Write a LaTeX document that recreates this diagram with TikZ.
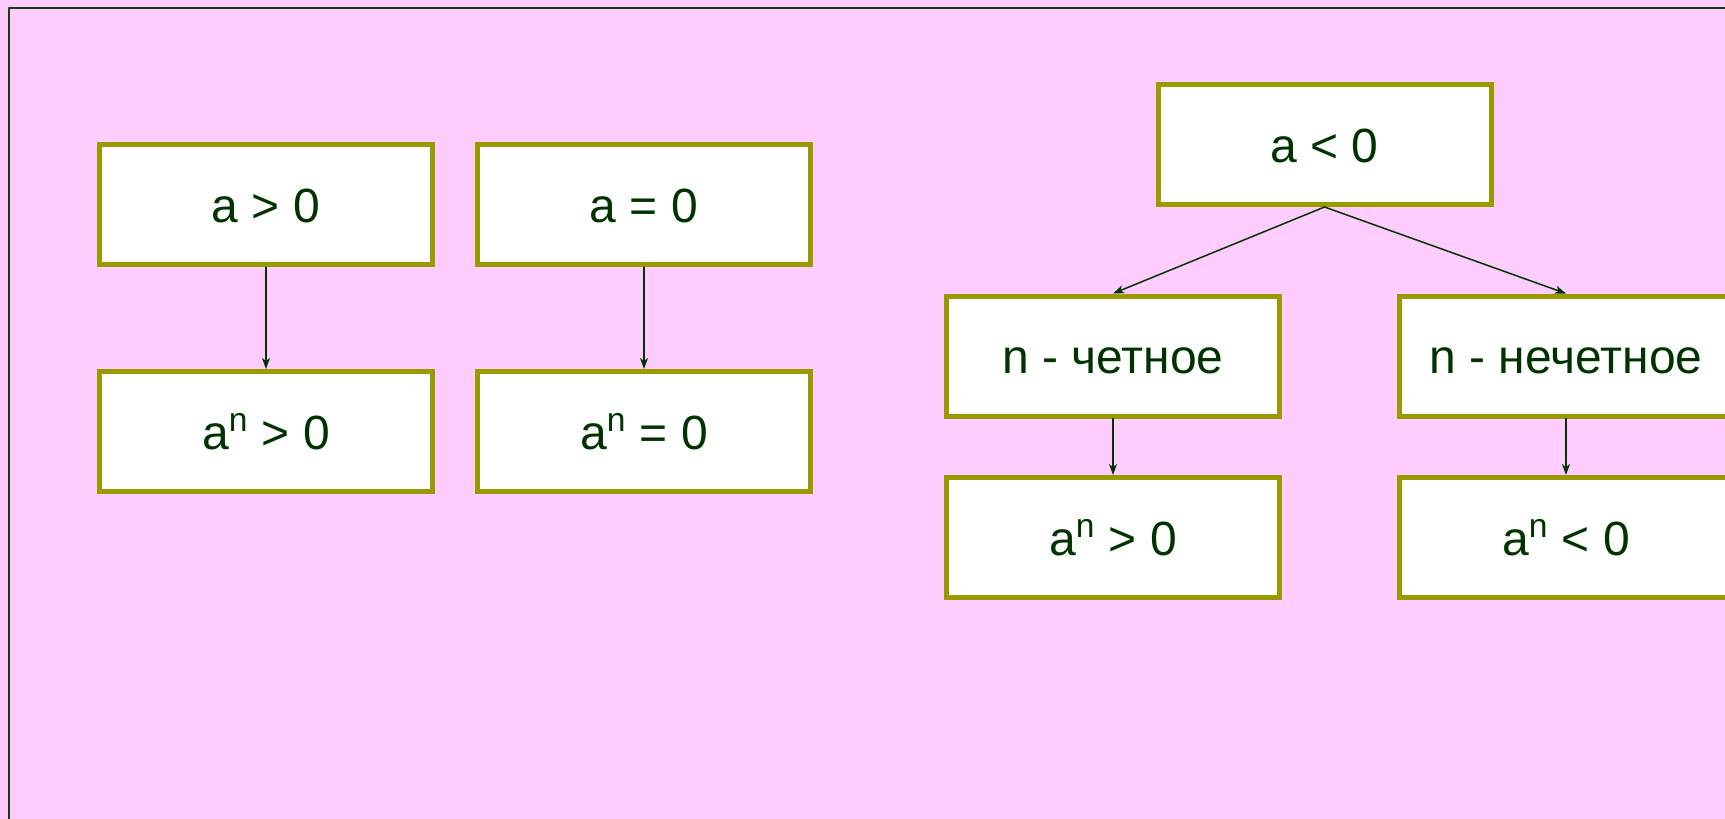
\documentclass[tikz,border=0pt]{standalone}
\usepackage{fontspec}
\setmainfont{Liberation Sans}
\usepackage{tikz}
\usetikzlibrary{arrows.meta}
\definecolor{fonrose}{HTML}{FFCCFF}
\definecolor{olivka}{HTML}{999900}
\definecolor{temnozel}{HTML}{003300}
\tikzset{
  usl/.style={draw=olivka,fill=white,line width=2.5pt,line join=miter,rectangle,
    minimum width=166.5pt,minimum height=60pt,inner sep=0pt,
    text height=17.6pt,text depth=0pt,
    text=temnozel,font=\fontsize{24}{28}\selectfont},
  strelka/.style={->,color=temnozel,line width=0.75pt}
}
\begin{document}
\begin{tikzpicture}[line cap=round,line join=round,>={Stealth[length=5.5pt,width=4pt,inset=1.5pt]},x=0.5pt,y=-0.5pt]
\useasboundingbox (0,0) rectangle (1725,819);
\fill[fonrose] (0,0) rectangle (1725,819);
\clip (0,0) rectangle (1725,819);
\draw[line width=1pt,color=temnozel!85!gray] (1725,8.)-- (8.5,8.)-- (8.5,819);
% a > 0 , a = 0
\node[usl] (agt) at (266,204.5) {a > 0};
\node[usl] (agtn) at (266,431.5) {a\textsuperscript{n} > 0};
\node[usl] (aeq) at (644,204.5) {a = 0};
\node[usl] (aeqn) at (644,431.5) {a\textsuperscript{n} = 0};
% a < 0
\node[usl] (alt) at (1324.5,144.5) {a < 0};
\node[usl] (chet) at (1113,356) {n - четное};
\node[usl] (chetn) at (1113,537.5) {a\textsuperscript{n} > 0};
\node[usl] (nechet) at (1566,356) {n - нечетное};
\node[usl] (nechetn) at (1566,537.5) {a\textsuperscript{n} < 0};
\draw[strelka] (agt) -- (agtn);
\draw[strelka] (aeq) -- (aeqn);
\draw[strelka] (alt.south) -- (chet.north);
\draw[strelka] (alt.south) -- (nechet.north);
\draw[strelka] (chet) -- (chetn);
\draw[strelka] (nechet) -- (nechetn);
\end{tikzpicture}
\end{document}
